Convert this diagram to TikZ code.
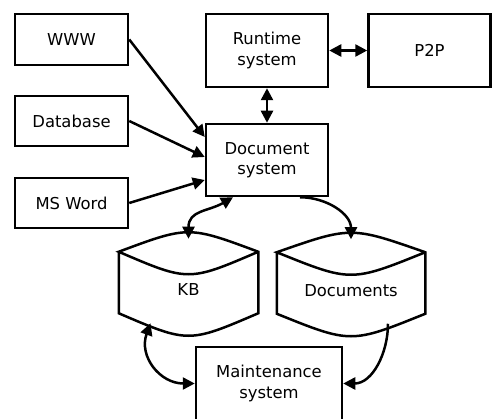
\documentclass[tikz,border=0pt]{standalone}
\usepackage{fontspec}
\setmainfont{DejaVu Sans}
\usetikzlibrary{calc, arrows.meta}

\begin{document}
\begin{tikzpicture}[x=1pt, y=-1pt, line width=2.5pt,
		box/.style={draw, inner sep=0pt, align=center, font=\fontsize{16.4}{20.5}\selectfont},
		store/.style={inner sep=0pt, minimum height=44pt, font=\fontsize{16.4}{20.5}\selectfont},
		link/.style={-{Triangle[length=12pt,width=12pt]}},
		dlink/.style={{Triangle[length=12pt,width=12pt]}-{Triangle[length=12pt,width=12pt]}}]
	\def\rim{15};
	\def\lid{41};
	\def\dip{15};
	\def\base{30};

	\useasboundingbox (0,0) rectangle (492,419);

	\begin{scope}
		\node[box, minimum width=113pt, minimum height=51pt] (www) at (71.5,39.5) {WWW};
		\node[box, minimum width=113pt, minimum height=50pt] (dbase) at (71.5,121) {Database};
		\node[box, minimum width=113pt, minimum height=50pt] (msword) at (71.5,203) {MS Word};
	\end{scope}

	\begin{scope}
		\node[box, minimum width=122pt, minimum height=73pt] (runtime) at (267,50.5) {Runtime\\system};
		\node[box, minimum width=122pt, minimum height=73pt] (ptp) at (429.5,50.5) {P2P};
		\node[box, minimum width=122pt, minimum height=72pt] (docsys) at (267,160) {Document\\system};
		\node[box, minimum width=146pt, minimum height=73pt] (maint) at (269,383.5) {Maintenance\\system};
	\end{scope}

	\begin{scope}
		\node[store, minimum width=137pt] (kb) at (188.5,290) {KB};
		\node[store, minimum width=146pt] (docs) at (351,290.5) {Documents};
		\foreach \n in {kb, docs} {
			\draw ($(\n.north west)+(0,-\rim)$) -- (\n.south west)
				.. controls ($(\n.south)+(0,\base)$) .. (\n.south east)
				-- ($(\n.north east)+(0,-\rim)$)
				.. controls ($(\n.north)+(0,-\lid)$) .. ($(\n.north west)+(0,-\rim)$)
				.. controls ($(\n.north)+(0,\dip)$) .. ($(\n.north east)+(0,-\rim)$);
		}
	\end{scope}

	\begin{scope}[link]
		\draw (www.east) -- ([yshift=23pt]docsys.west);
		\draw (dbase.east) -- ([yshift=3pt]docsys.west);
		\draw (msword.east) -- ([yshift=-20pt]docsys.west);
		\draw ([xshift=33pt]docsys.south) to[out=0, in=90] ([yshift=28pt]docs.north);
		\draw ([xshift=37pt, yshift=-10pt]docs.south) to[out=-90, in=0] (maint.east);
	\end{scope}

	\begin{scope}[dlink]
		\draw (runtime.east) -- (ptp.west);
		\draw (runtime.south) -- (docsys.north);
		\draw ([yshift=28pt]kb.north) to[out=90, in=210, looseness=1.2] ([xshift=-34pt]docsys.south);
		\draw ([xshift=-38pt, yshift=-10pt]kb.south) to[out=250, in=180, looseness=1.2] (maint.west);
	\end{scope}
\end{tikzpicture}
\end{document}
